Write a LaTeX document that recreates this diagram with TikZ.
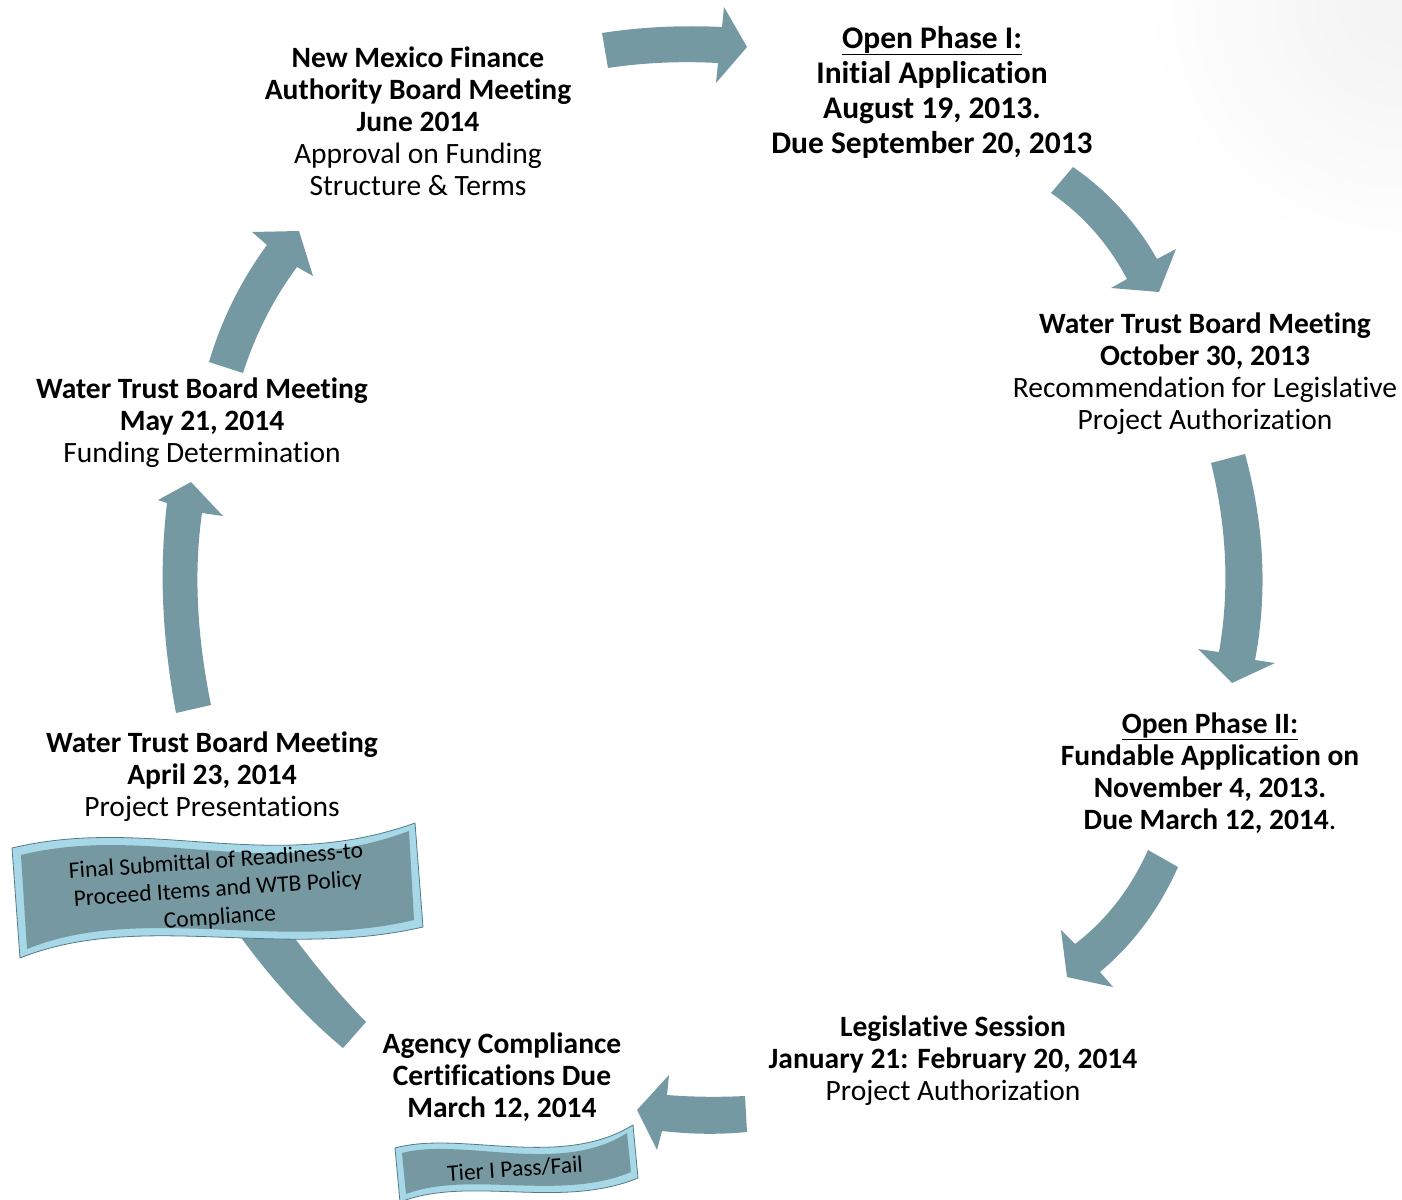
\documentclass[tikz,border=0pt]{standalone}
\usepackage{fontspec}
\setmainfont[Ligatures=NoCommon]{Carlito}
\definecolor{arrowc}{RGB}{116,153,163}
\definecolor{bannerin}{RGB}{118,152,160}
\definecolor{bannerout}{RGB}{166,216,232}
\definecolor{bannerline}{RGB}{84,122,134}
\begin{document}
\begin{tikzpicture}[x=1pt,y=-1pt,
  txt/.style={align=center,inner sep=0pt,font=\fontsize{29.5}{32}\selectfont},
  txtbig/.style={align=center,inner sep=0pt,font=\fontsize{31.5}{35}\selectfont},
  bantxt/.style={align=center,inner sep=0pt,font=\fontsize{23.5}{28}\selectfont},
  blockarrow/.style={fill=arrowc,draw=none},
  banouter/.style={fill=bannerout,draw=bannerline,line width=0.8pt},
  baninner/.style={fill=bannerin,draw=none}]
\useasboundingbox (0,0) rectangle (1402,1199);
\begin{scope}
\clip (0,0) rectangle (1402,1199);
\shade[inner color=black!5,outer color=white,draw=none] (1402,0) circle (260);
\end{scope}

% block arrows
\path[blockarrow] (602,33) .. controls (640.7,27) and (680.7,25) .. (722,27) -- (724,7) -- (747,47) -- (716,83) -- (718,63) .. controls (679.3,61) and (642.7,62.7) .. (608,68) -- cycle;
\path[blockarrow] (1073,167) .. controls (1107.7,191) and (1135.7,221.7) .. (1157,259) -- (1176,249) -- (1159,292) -- (1111,288) -- (1127,279) .. controls (1108.3,243.7) and (1083,215) .. (1051,193) -- cycle;
\path[blockarrow] (1245,454) .. controls (1264.3,524.7) and (1267.7,593.3) .. (1255,660) -- (1275,663) -- (1232,683) -- (1198,649) -- (1219,652) .. controls (1229.7,590.7) and (1227,528.3) .. (1211,463) -- cycle;
\path[blockarrow] (1178,867) .. controls (1159.3,909) and (1133.3,944) .. (1100,972) -- (1113,987) -- (1067,977) -- (1061,930) -- (1075,944) .. controls (1106.3,920) and (1130.7,888.7) .. (1148,850) -- cycle;
\path[blockarrow] (745,1096) .. controls (718.3,1097.3) and (692.3,1097) .. (667,1095) -- (669,1075) -- (637,1110) -- (657,1150) -- (662,1131) .. controls (690.7,1134.3) and (719.7,1134.7) .. (747,1132) -- cycle;
\path[blockarrow] (366,1022) .. controls (338.7,994) and (311.7,961.7) .. (285,925) -- (232,925) .. controls (267.3,975) and (304.3,1016) .. (343,1048) -- cycle;
\path[blockarrow] (176,713) .. controls (162,637.7) and (159,570.3) .. (167,503) -- (158,500) -- (191,482) -- (223,516) -- (202,513) .. controls (193.7,571) and (196.7,635) .. (211,705) -- cycle;
\path[blockarrow] (209,362) .. controls (221.7,319.3) and (241,280.3) .. (267,245) -- (252,232) -- (299,231) -- (313,276) -- (297,267) .. controls (273.7,298.3) and (255.7,333.7) .. (243,373) -- cycle;

% banners
\path[banouter] (12,848) .. controls (150,815) and (270,875) .. (415,823) -- (423,927) .. controls (280,960) and (140,910) .. (20,958) -- cycle;
\path[baninner] (21,855) .. controls (150,823) and (270,883) .. (409,831) -- (414,920) .. controls (280,952) and (140,903) .. (27,949) -- cycle;
\node[bantxt,rotate=4] (ban1) at (218,890) {Final Submittal of Readiness-to\\Proceed Items and WTB Policy\\Compliance};

\path[banouter] (395,1148) .. controls (460,1130) and (560,1170) .. (633,1125) -- (638,1178) .. controls (560,1210) and (470,1175) .. (400,1202) -- cycle;
\path[baninner] (402,1153) .. controls (462,1137) and (560,1176) .. (627,1133) -- (631,1172) .. controls (560,1202) and (470,1170) .. (406,1194) -- cycle;
\node[bantxt,rotate=4] (ban2) at (515,1169) {Tier I Pass/Fail};

% text blocks
\node[txt] (nmfa) at (418,121) {\textbf{New Mexico Finance}\\\textbf{Authority Board Meeting}\\\textbf{June 2014}\\Approval on Funding\\Structure \& Terms};
\node[txtbig] (phase1) at (932,92) {\textbf{\underline{Open Phase I:}}\\\textbf{Initial Application}\\\textbf{August 19, 2013.}\\\textbf{Due September 20, 2013}};
\node[txt] (wtboct) at (1205,374) {\textbf{Water Trust Board Meeting}\\\textbf{October 30, 2013}\\Recommendation for Legislative\\Project Authorization};
\node[txt] (phase2) at (1210,773) {\textbf{\underline{Open Phase II:}}\\\textbf{Fundable Application on}\\\textbf{November 4, 2013.}\\\textbf{Due March 12, 2014}.};
\node[txt] (legis) at (953,1061) {\textbf{Legislative Session}\\\textbf{January 21: February 20, 2014}\\Project Authorization};
\node[txt] (agency) at (502,1077) {\textbf{Agency Compliance}\\\textbf{Certifications Due}\\\textbf{March 12, 2014}};
\node[txt] (wtbapr) at (212,777) {\textbf{Water Trust Board Meeting}\\\textbf{April 23, 2014}\\Project Presentations};
\node[txt] (wtbmay) at (202,423) {\textbf{Water Trust Board Meeting}\\\textbf{May 21, 2014}\\Funding Determination};
\end{tikzpicture}
\end{document}
